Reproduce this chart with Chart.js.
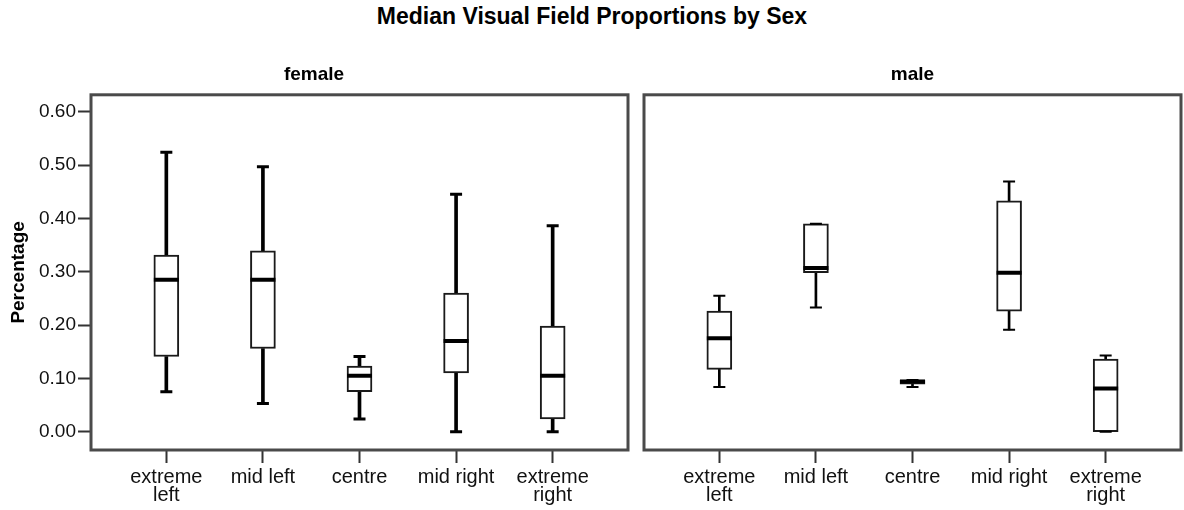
<!DOCTYPE html>
<html>
<head>
<meta charset="utf-8">
<script src="https://cdn.jsdelivr.net/npm/chart.js@4.4.1/dist/chart.umd.min.js"></script>
<style>
  html, body { margin: 0; padding: 0; background: #fff; }
  #wrap { position: relative; width: 1184px; height: 510px; overflow: hidden; }
  #titulo {
    position: absolute; left: 0; top: 5px; width: 1184px;
    text-align: center; color: #000;
    font: bold 23px/23px "Liberation Sans", Arial, sans-serif;
  }
  .painel { position: absolute; top: 0; height: 510px; }
  #painelF { left: 0; width: 636px; }
  #painelM { left: 636px; width: 548px; }
</style>
</head>
<body>
<div id="wrap">
  <div id="titulo">Median Visual Field Proportions by Sex</div>
  <div class="painel" id="painelF"><canvas id="chartF" width="636" height="510"></canvas></div>
  <div class="painel" id="painelM"><canvas id="chartM" width="548" height="510"></canvas></div>
</div>
<script>
// categorias e rotulos dos eixos
const categorias = ["extreme left", "mid left", "centre", "mid right", "extreme right"];
const rotulosX = [["extreme", "left"], "mid left", "centre", "mid right", ["extreme", "right"]];
const rotulosY = [0, 0.1, 0.2, 0.3, 0.4, 0.5, 0.6];

// female: minimo, quartis, mediana, maximo
const femaleMin = [0.075, 0.053, 0.024, 0.000, 0.000];
const femaleQ1 = [0.141, 0.156, 0.075, 0.110, 0.024];
const femaleMediana = [0.285, 0.285, 0.105, 0.170, 0.105];
const femaleQ3 = [0.331, 0.339, 0.123, 0.260, 0.198];
const femaleMax = [0.524, 0.497, 0.141, 0.445, 0.386];

// male
const maleMin = [0.084, 0.233, 0.084, 0.191, 0.000];
const maleQ1 = [0.117, 0.298, 0.089, 0.226, 0.000];
const maleMediana = [0.175, 0.307, 0.094, 0.298, 0.081];
const maleQ3 = [0.226, 0.390, 0.097, 0.433, 0.136];
const maleMax = [0.255, 0.390, 0.097, 0.469, 0.143];

const FONTE = "'Liberation Sans', Arial, sans-serif";

function pontos(valores) {
  return valores.map((v, i) => ({ x: i, y: v }));
}

function intervalos(de, ate) {
  return de.map((v, i) => ({ x: i, y: [v, ate[i]] }));
}

function linha(label, valores, raio, espessura, ordem) {
  return {
    type: "scatter",
    label,
    data: pontos(valores),
    pointStyle: "line",
    pointRadius: raio,
    pointHoverRadius: raio,
    pointBorderWidth: espessura,
    pointBorderColor: "#000",
    order: ordem
  };
}

function bigode(label, de, ate, espessura) {
  return {
    type: "bar",
    label,
    data: intervalos(de, ate),
    backgroundColor: "#000",
    borderWidth: 0,
    barThickness: espessura,
    grouped: false,
    order: 3
  };
}

function montarDatasets(minimo, q1, mediana, q3, maximo, espessura) {
  return [
    linha("Mediana", mediana, 12.5, 4, 0),
    linha("Máximo", maximo, 6, espessura, 1),
    linha("Mínimo", minimo, 6, espessura, 1),
    {
      type: "bar",
      label: "Caixa",
      data: intervalos(q1, q3),
      backgroundColor: "#fff",
      borderColor: "#1a1a1a",
      borderWidth: 2,
      borderSkipped: false,
      barThickness: 25,
      grouped: false,
      order: 2
    },
    bigode("Bigode inferior", minimo, q1, espessura),
    bigode("Bigode superior", q3, maximo, espessura)
  ];
}

// moldura em volta da area do grafico
const moldura = {
  id: "moldura",
  afterDatasetsDraw(chart) {
    const { ctx, chartArea: a } = chart;
    ctx.save();
    ctx.strokeStyle = "#4a4a4a";
    ctx.lineWidth = 3;
    ctx.strokeRect(a.left, a.top, a.right - a.left, a.bottom - a.top);
    ctx.restore();
  }
};

function criarPainel(id, titulo, datasets, comEixoY, padding) {
  return new Chart(document.getElementById(id), {
    type: "bar",
    data: { datasets },
    plugins: [moldura],
    options: {
      responsive: false,
      animation: false,
      events: [],
      layout: { padding, autoPadding: false },
      plugins: {
        legend: { display: false },
        tooltip: { enabled: false },
        title: {
          display: true,
          text: titulo,
          color: "#000",
          font: { family: FONTE, size: 19, weight: "bold" },
          padding: { top: 0, bottom: 9 }
        }
      },
      scales: {
        x: {
          type: "linear",
          min: -0.78,
          max: 4.78,
          offset: false,
          afterBuildTicks: (s) => { s.ticks = categorias.map((c, i) => ({ value: i })); },
          afterFit: (s) => {
            s.height = 60;
            s.paddingLeft = 0;
            s.paddingRight = 0;
          },
          border: { display: false },
          grid: { offset: false, drawOnChartArea: false, drawTicks: true, tickLength: 13, tickWidth: 2, tickColor: "#333" },
          ticks: {
            autoSkip: false,
            maxRotation: 0,
            minRotation: 0,
            padding: 5,
            color: "#111",
            font: { family: FONTE, size: 20, lineHeight: 0.93 },
            callback: (v) => rotulosX[v]
          }
        },
        y: {
          display: comEixoY,
          min: -0.0343,
          max: 0.6317,
          afterBuildTicks: (s) => { s.ticks = rotulosY.map((v) => ({ value: v })); },
          afterFit: (s) => { s.width = comEixoY ? 91 : 0; },
          border: { display: false },
          grid: { drawOnChartArea: false, drawTicks: true, tickLength: 13, tickWidth: 2, tickColor: "#333" },
          title: {
            display: true,
            text: "Percentage",
            color: "#000",
            font: { family: FONTE, size: 19, weight: "bold" },
            padding: { top: 7, bottom: 0 }
          },
          ticks: {
            padding: 2,
            color: "#111",
            font: { family: FONTE, size: 19 },
            callback: (v) => v.toFixed(2)
          }
        }
      }
    }
  });
}

criarPainel("chartF", "female",
  montarDatasets(femaleMin, femaleQ1, femaleMediana, femaleQ3, femaleMax, 3),
  true, { top: 63, left: 0, right: 8, bottom: 0 });

criarPainel("chartM", "male",
  montarDatasets(maleMin, maleQ1, maleMediana, maleQ3, maleMax, 2),
  false, { top: 63, left: 8, right: 3, bottom: 0 });
</script>
</body>
</html>
